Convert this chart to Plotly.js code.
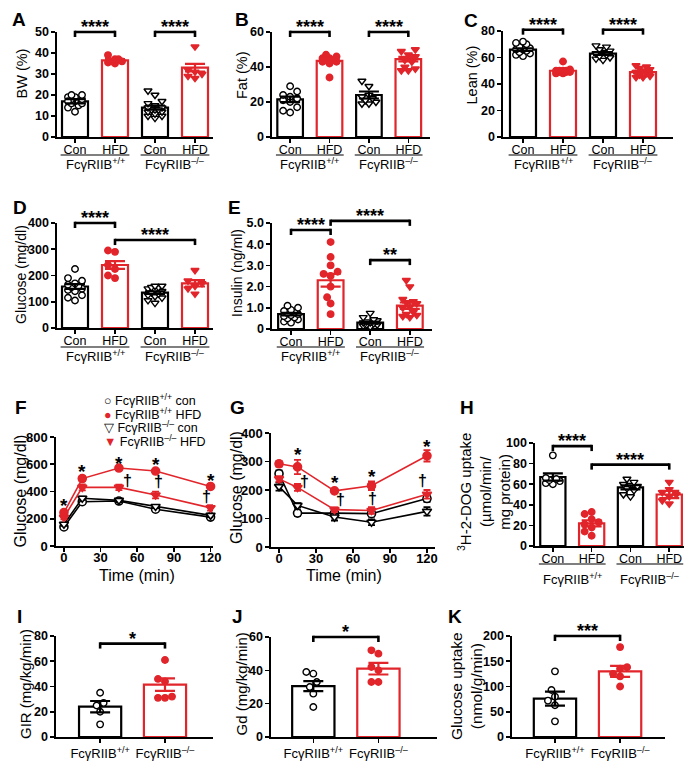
<!DOCTYPE html>
<html><head><meta charset="utf-8">
<script src="https://cdn.plot.ly/plotly-3.0.1.min.js"></script>
<style>body{margin:0;background:#fff}#chart{width:700px;height:770px}</style>
</head><body><div id="chart"></div>
<script>
// ---------------- DATA ----------------
const groups4 = ['Con', 'HFD', 'Con', 'HFD'];
const genotypes = ['FcγRIIB<sup>+/+</sup>', 'FcγRIIB<sup>–/–</sup>'];

// A: BW (%)
const bwMean = [17, 36.5, 14, 33];
const bwSem = [1.0, 0.6, 1.0, 1.8];
const bwWtCon = [12, 14, 15, 16, 16, 17, 18, 18, 19, 19, 20, 20, 17];
const bwWtHfd = [35, 35.5, 36, 36, 37, 37, 39];
const bwKoCon = [9, 10, 10, 11, 12, 12, 13, 13, 14, 14, 15, 16, 17, 20, 22, 13];
const bwKoHfd = [28, 29, 30, 31, 32, 43];
const bwSig = [[0, 1, 50, '****'], [2, 3, 50, '****']];

// B: Fat (%)
const fatMean = [21.5, 43.5, 24, 44.5];
const fatSem = [1.6, 1.0, 2.0, 1.3];
const fatWtCon = [14, 15, 17, 20, 21, 22, 23, 24, 26, 29];
const fatWtHfd = [34, 42, 43, 43, 44, 44, 45, 45, 46, 47];
const fatKoCon = [19, 19, 20, 21, 22, 23, 24, 29, 32];
const fatKoHfd = [38, 38, 39, 40, 43, 44, 46, 47, 49, 50];
const fatSig = [[0, 1, 60, '****'], [2, 3, 60, '****']];

// C: Lean (%)
const leanMean = [66, 50, 63, 49];
const leanSem = [1.0, 0.7, 1.0, 1.0];
const leanWtCon = [61, 62, 63, 64, 65, 66, 66, 67, 68, 70, 71, 72];
const leanWtHfd = [48, 48, 49, 49, 49, 50, 50, 50, 50, 51, 57];
const leanKoCon = [58, 59, 60, 61, 62, 63, 64, 65, 66, 68, 69];
const leanKoHfd = [45, 45, 46, 47, 48, 49, 50, 51, 52, 53, 54];
const leanSig = [[0, 1, 81, '****'], [2, 3, 81, '****']];

// D: Glucose (mg/dl)
const gluMean = [158, 240, 135, 170];
const gluSem = [9, 15, 5, 12];
const gluWtCon = [105, 115, 125, 140, 145, 150, 155, 160, 165, 170, 180, 190, 225];
const gluWtHfd = [190, 200, 225, 240, 290, 295];
const gluKoCon = [95, 105, 115, 120, 125, 130, 135, 140, 145, 150, 155, 155, 160, 160];
const gluKoHfd = [130, 150, 160, 170, 180, 220];
const gluSig = [[0, 1, 400, '****'], [1, 3, 335, '****']];

// E: Insulin (ng/ml)
const insMean = [0.7, 2.3, 0.3, 1.1];
const insSem = [0.06, 0.3, 0.05, 0.15];
const insWtCon = [0.3, 0.35, 0.45, 0.5, 0.55, 0.6, 0.65, 0.7, 0.75, 0.8, 0.85, 0.9, 1.0, 1.1];
const insWtHfd = [0.7, 1.2, 1.5, 2.0, 2.5, 2.6, 2.7, 3.0, 3.4, 4.1];
const insKoCon = [0.1, 0.15, 0.2, 0.2, 0.25, 0.3, 0.3, 0.35, 0.4, 0.45, 0.55, 0.75];
const insKoHfd = [0.55, 0.6, 0.65, 0.7, 0.8, 1.0, 1.05, 1.2, 1.25, 1.3, 1.4, 2.0, 2.3];
const insTickVals = [0, 1, 2, 3, 4, 5];
const insTickText = ['0', '1.0', '2.0', '3.0', '4.0', '5.0'];
const insSig = [[0, 1, 4.67, '****'], [1, 3, 5.1, '****'], [2, 3, 3.25, '**']];

// F: GTT
const gttTime = [0, 15, 45, 75, 120];
const gttWtCon = [140, 325, 330, 270, 212];
const gttWtConSem = [12, 15, 15, 15, 12];
const gttWtHfd = [245, 495, 572, 550, 437];
const gttWtHfdSem = [15, 18, 10, 12, 15];
const gttKoCon = [160, 350, 335, 290, 225];
const gttKoConSem = [12, 12, 12, 12, 12];
const gttKoHfd = [210, 430, 430, 374, 280];
const gttKoHfdSem = [15, 22, 20, 25, 20];
const gttStarT = [0, 15, 45, 75, 120];
const gttStarY = [325, 578, 636, 626, 509];
const gttDagT = [52, 77, 117];
const gttDagY = [484, 472, 362];

// G: ITT
const ittTime = [0, 15, 45, 75, 120];
const ittWtCon = [257, 119, 119, 117, 170];
const ittWtConSem = [12, 10, 10, 10, 12];
const ittWtHfd = [292, 281, 197, 215, 320];
const ittWtHfdSem = [10, 25, 5, 15, 20];
const ittKoCon = [212, 146, 105, 87, 125];
const ittKoConSem = [14, 8, 12, 10, 15];
const ittKoHfd = [239, 209, 131, 128, 185];
const ittKoHfdSem = [10, 12, 8, 12, 15];
const ittStarT = [15, 45, 75, 120];
const ittStarY = [337, 239, 263, 367];
const ittDagT = [21, 50, 76, 116];
const ittDagY = [229, 165, 171, 235];

// H: 3H-2-DOG uptake
const dogMean = [67, 22, 57, 50];
const dogSem = [3.5, 3.0, 2.0, 3.5];
const dogWtCon = [60, 61, 63, 64, 65, 66, 88];
const dogWtHfd = [10, 14, 18, 21, 23, 26, 31, 33];
const dogKoCon = [48, 50, 54, 56, 58, 59, 60, 62, 65];
const dogKoHfd = [41, 44, 48, 50, 52, 55, 62];
const dogSig = [[0, 1, 97, '****'], [1, 3, 79, '****']];

// I: GIR
const girMean = [24, 41.5];
const girSem = [4.5, 5];
const girWt = [10, 20, 25, 27, 35];
const girKo = [31, 31, 32, 44, 46, 61];
const girSig = [[0, 1, 74, '*']];

// J: Gd
const gdMean = [30.5, 41];
const gdSem = [3, 3.5];
const gdWt = [18, 26, 30, 33, 38, 39];
const gdKo = [33, 33, 40, 42, 50, 52];
const gdSig = [[0, 1, 60, '*']];

// K: Glucose uptake
const guMean = [76, 130];
const guSem = [14, 11];
const guWt = [31, 63, 72, 80, 93, 130];
const guKo = [100, 120, 125, 135, 138, 178];
const guSig = [[0, 1, 200, '***']];

// ---------------- LAYOUT / STYLE ----------------
const RED = '#e1252b';
const BLACK = '#000000';
const FONT = '"Liberation Sans", Arial, Helvetica, sans-serif';
const W = 700, H = 770;

const panels = {
  A: {box: [57, 213, 32, 137], yr: [0, 50], dtick: 10, xr: [-0.45, 3.45], bw: 0.65, title: 'BW (%)', tp: [21.5, 74, 14.5]},
  B: {box: [272, 430, 32, 137], yr: [0, 60], dtick: 20, xr: [-0.46, 3.55], bw: 0.65, title: 'Fat (%)', tp: [241.5, 74.5, 14.5]},
  C: {box: [503, 673, 31, 137], yr: [0, 80], dtick: 20, xr: [-0.5, 3.75], bw: 0.65, title: 'Lean (%)', tp: [471.5, 75, 14.5]},
  D: {box: [57, 213, 223, 328], yr: [0, 400], dtick: 100, xr: [-0.45, 3.45], bw: 0.65, title: 'Glucose (mg/dl)', tp: [21, 275, 14]},
  E: {box: [272, 432, 223, 329], yr: [0, 5], dtick: 1, xr: [-0.48, 3.56], bw: 0.65, title: 'Insulin (ng/ml)', tp: [237, 273, 14]},
  F: {box: [56, 213, 437, 546], yr: [0, 800], dtick: 200, xr: [-6.5, 122], title: 'Glucose (mg/dl)', tp: [20, 491.5, 16], xt: [137, 575]},
  G: {box: [271, 435, 433, 547], yr: [0, 400], dtick: 100, xr: [-6.5, 126.5], title: 'Glucose (mg/dl)', tp: [236, 488, 16], xt: [344, 575]},
  H: {box: [535, 684, 443, 546], yr: [0, 100], dtick: 20, xr: [-0.46, 3.38], bw: 0.65, title: '<sup>3</sup>H-2-DOG uptake<br>(µmol/min/<br>mg protein)', tp: [484, 492, 15]},
  I: {box: [56, 213, 636, 737], yr: [0, 80], dtick: 20, xr: [-0.68, 1.74], bw: 0.65, title: 'GIR (mg/kg/min)', tp: [25, 684, 15]},
  J: {box: [271, 437, 637, 737], yr: [0, 60], dtick: 20, xr: [-0.65, 1.9], bw: 0.65, title: 'Gd (mg/kg/min)', tp: [240.5, 684, 15]},
  K: {box: [512, 665, 636, 737], yr: [0, 200], dtick: 50, xr: [-0.66, 1.69], bw: 0.65, title: 'Glucose uptake<br>(nmol/g/min)', tp: [466, 686, 15.5]}
};

const letterPos = {A: [12, 12], B: [235, 12], C: [464, 13], D: [13, 200], E: [228, 200], F: [15, 400],
  G: [230, 400], H: [460, 400], I: [17, 609], J: [232, 609], K: [448, 609]};

const layout = {
  width: W, height: H, margin: {l: 0, r: 0, t: 0, b: 0},
  paper_bgcolor: '#ffffff', plot_bgcolor: 'rgba(0,0,0,0)',
  showlegend: false, barmode: 'overlay', hovermode: false,
  font: {family: FONT, color: BLACK},
  shapes: [], annotations: []
};
const traces = [];

const axBase = {showline: true, linecolor: BLACK, linewidth: 1.6, ticks: 'outside', ticklen: 4,
  tickwidth: 1.6, tickcolor: BLACK, showgrid: false, zeroline: false, fixedrange: true};

const styles4 = [
  {color: BLACK, symbol: 'circle', fill: '#ffffff'},
  {color: RED, symbol: 'circle', fill: RED},
  {color: BLACK, symbol: 'triangle-down', fill: '#ffffff'},
  {color: RED, symbol: 'triangle-down', fill: RED}
];
const styles2 = [styles4[0], styles4[1]];

function ids(n) {
  const s = n === 1 ? '' : String(n);
  return {xa: 'x' + s, ya: 'y' + s, xk: 'xaxis' + s, yk: 'yaxis' + s};
}
function pxDom(b) { return {x: [b[0] / W, b[1] / W], y: [1 - b[3] / H, 1 - b[2] / H]}; }

function setAxes(n, p, xOpts, yOpts) {
  const d = pxDom(p.box), a = ids(n);
  layout[a.xk] = Object.assign({}, axBase, {domain: d.x, anchor: a.ya, range: p.xr,
    tickfont: {family: FONT, size: 12.5, color: BLACK}}, xOpts || {});
  layout[a.yk] = Object.assign({}, axBase, {domain: d.y, anchor: a.xa, range: p.yr, tick0: 0, dtick: p.dtick,
    tickfont: {family: FONT, size: 12.5, color: BLACK, weight: 'bold'}}, yOpts || {});
  // y-axis title as rotated text
  layout.annotations.push({xref: 'paper', yref: 'paper', x: p.tp[0] / W, y: 1 - p.tp[1] / H,
    xanchor: 'center', yanchor: 'middle', textangle: -90, text: p.title, showarrow: false,
    font: {family: FONT, size: p.tp[2], color: BLACK}});
  if (p.xt) {
    layout.annotations.push({xref: 'paper', yref: 'paper', x: p.xt[0] / W, y: 1 - p.xt[1] / H,
      xanchor: 'center', yanchor: 'middle', text: 'Time (min)', showarrow: false,
      font: {family: FONT, size: 16, color: BLACK}});
  }
}

// simple beeswarm offset (layout only)
function swarm(vals, center, p, diam) {
  const ppx = (p.box[1] - p.box[0]) / (p.xr[1] - p.xr[0]);
  const ppy = (p.box[3] - p.box[2]) / (p.yr[1] - p.yr[0]);
  const order = vals.map((v, i) => i).sort((a, b) => vals[a] - vals[b]);
  const placed = [], xs = new Array(vals.length);
  const maxOff = p.bw * ppx / 2 - diam / 2;
  for (const i of order) {
    const yp = vals[i] * ppy;
    let best = null, bestScore = -1, bestOff = 0;
    for (let k = 0; k < 40; k++) {
      const off = (k % 2 === 0 ? 1 : -1) * Math.ceil(k / 2) * diam * 0.5;
      if (Math.abs(off) > maxOff) continue;
      let minD = Infinity;
      placed.forEach(q => { minD = Math.min(minD, Math.hypot(q.x - off, q.y - yp)); });
      if (minD >= diam * 0.98) { best = off; break; }
      if (minD > bestScore) { bestScore = minD; bestOff = off; }
    }
    if (best === null) best = bestOff;
    placed.push({x: best, y: yp});
    xs[i] = center + best / ppx;
  }
  return xs;
}

function addBracket(n, p, x0, x1, yv, label) {
  const a = ids(n);
  const h = p.box[3] - p.box[2];
  const yd = (yv - p.yr[0]) / (p.yr[1] - p.yr[0]);
  const drop = 5 / h;
  const ref = {xref: a.xa, yref: a.ya + ' domain'};
  const ln = {color: BLACK, width: 2.6};
  layout.shapes.push(Object.assign({type: 'line', x0: x0, x1: x1, y0: yd, y1: yd, line: ln}, ref));
  layout.shapes.push(Object.assign({type: 'line', x0: x0, x1: x0, y0: yd - drop, y1: yd + 1.3 / h, line: ln}, ref));
  layout.shapes.push(Object.assign({type: 'line', x0: x1, x1: x1, y0: yd - drop, y1: yd + 1.3 / h, line: ln}, ref));
  layout.annotations.push(Object.assign({x: (x0 + x1) / 2, y: yd, yanchor: 'bottom', yshift: -7, text: label,
    showarrow: false, font: {family: FONT, size: 18, weight: 'bold', color: BLACK}}, ref));
}

function addGenoRow(n, p, underPx, textPx) {
  const a = ids(n);
  const h = p.box[3] - p.box[2];
  const yu = -(underPx - p.box[3]) / h, yt = -(textPx - p.box[3]) / h;
  [[0, 1], [2, 3]].forEach((pr, k) => {
    layout.shapes.push({type: 'line', xref: a.xa, yref: a.ya + ' domain', x0: pr[0] - 0.36, x1: pr[1] + 0.36,
      y0: yu, y1: yu, line: {color: BLACK, width: 1.2}});
    layout.annotations.push({xref: a.xa, yref: a.ya + ' domain', x: (pr[0] + pr[1]) / 2, y: yt, yanchor: 'middle',
      text: genotypes[k], showarrow: false, font: {family: FONT, size: 13, color: BLACK}});
  });
}

function barPanel(n, key, cats, means, sems, groups, styles, sig, yOpts) {
  const p = panels[key], a = ids(n);
  const four = cats.length === 4;
  setAxes(n, p, {tickvals: cats.map((c, i) => i), ticktext: cats, ticklabelstandoff: four ? -4 : 0,
    tickfont: {family: FONT, size: four ? 12.5 : 13, color: BLACK}}, yOpts);
  means.forEach((m, i) => traces.push({type: 'bar', x: [i], y: [m], width: p.bw, xaxis: a.xa, yaxis: a.ya,
    marker: {color: '#ffffff', line: {color: styles[i].color, width: 2.2}}, hoverinfo: 'skip'}));
  groups.forEach((vals, i) => traces.push({type: 'scatter', mode: 'markers', x: swarm(vals, i, p, 7),
    y: vals, xaxis: a.xa, yaxis: a.ya, cliponaxis: false, hoverinfo: 'skip',
    marker: {symbol: styles[i].symbol, size: styles[i].symbol === 'circle' ? 6.5 : 7,
      color: styles[i].fill, line: {color: styles[i].color, width: 1.4}}}));
  means.forEach((m, i) => traces.push({type: 'scatter', mode: 'markers', x: [i], y: [m], xaxis: a.xa, yaxis: a.ya,
    marker: {size: 1, color: 'rgba(0,0,0,0)'}, hoverinfo: 'skip', cliponaxis: false,
    error_y: {type: 'data', array: [sems[i]], color: styles[i].color, thickness: 2.2, width: 10}}));
  sig.forEach(s => addBracket(n, p, s[0], s[1], s[2], s[3]));
}

function linePanel(n, key, t, series, starT, starY, dagT, dagY) {
  const p = panels[key], a = ids(n);
  setAxes(n, p, {tickvals: [0, 30, 60, 90, 120], ticklabelstandoff: -5,
    tickfont: {family: FONT, size: 13, color: BLACK, weight: 'bold'}},
    {tickfont: {family: FONT, size: 13, color: BLACK, weight: 'bold'}});
  series.forEach(s => traces.push({type: 'scatter', mode: 'lines+markers', x: t, y: s.y, xaxis: a.xa, yaxis: a.ya,
    cliponaxis: false, hoverinfo: 'skip', line: {color: s.st.color, width: 1.6},
    marker: {symbol: s.st.symbol, size: 8, color: s.st.fill, line: {color: s.st.color, width: 1.6}},
    error_y: {type: 'data', array: s.sem, color: s.st.color, thickness: 1.8, width: 3.5}}));
  starT.forEach((x, i) => layout.annotations.push({xref: a.xa, yref: a.ya, x: x, y: starY[i], yshift: -4,
    text: '*', showarrow: false, font: {family: FONT, size: 19, weight: 'bold', color: BLACK}}));
  dagT.forEach((x, i) => layout.annotations.push({xref: a.xa, yref: a.ya, x: x, y: dagY[i],
    text: '†', showarrow: false, font: {family: FONT, size: 16, weight: 'bold', color: BLACK}}));
}

// ---------------- BUILD ----------------
barPanel(1, 'A', groups4, bwMean, bwSem, [bwWtCon, bwWtHfd, bwKoCon, bwKoHfd], styles4, bwSig);
addGenoRow(1, panels.A, 155, 164);
barPanel(2, 'B', groups4, fatMean, fatSem, [fatWtCon, fatWtHfd, fatKoCon, fatKoHfd], styles4, fatSig);
addGenoRow(2, panels.B, 155, 164);
barPanel(3, 'C', groups4, leanMean, leanSem, [leanWtCon, leanWtHfd, leanKoCon, leanKoHfd], styles4, leanSig);
addGenoRow(3, panels.C, 155, 164);
barPanel(4, 'D', groups4, gluMean, gluSem, [gluWtCon, gluWtHfd, gluKoCon, gluKoHfd], styles4, gluSig);
addGenoRow(4, panels.D, 347, 356);
barPanel(5, 'E', groups4, insMean, insSem, [insWtCon, insWtHfd, insKoCon, insKoHfd], styles4, insSig,
  {tickvals: insTickVals, ticktext: insTickText});
addGenoRow(5, panels.E, 347, 356);

linePanel(6, 'F', gttTime, [
  {y: gttWtCon, sem: gttWtConSem, st: styles4[0]},
  {y: gttKoCon, sem: gttKoConSem, st: styles4[2]},
  {y: gttKoHfd, sem: gttKoHfdSem, st: styles4[3]},
  {y: gttWtHfd, sem: gttWtHfdSem, st: styles4[1]}
], gttStarT, gttStarY, gttDagT, gttDagY);

linePanel(7, 'G', ittTime, [
  {y: ittWtCon, sem: ittWtConSem, st: styles4[0]},
  {y: ittKoCon, sem: ittKoConSem, st: styles4[2]},
  {y: ittKoHfd, sem: ittKoHfdSem, st: styles4[3]},
  {y: ittWtHfd, sem: ittWtHfdSem, st: styles4[1]}
], ittStarT, ittStarY, ittDagT, ittDagY);

barPanel(8, 'H', groups4, dogMean, dogSem, [dogWtCon, dogWtHfd, dogKoCon, dogKoHfd], styles4, dogSig);
addGenoRow(8, panels.H, 564, 579);

barPanel(9, 'I', genotypes, girMean, girSem, [girWt, girKo], styles2, girSig);
barPanel(10, 'J', genotypes, gdMean, gdSem, [gdWt, gdKo], styles2, gdSig);
barPanel(11, 'K', genotypes, guMean, guSem, [guWt, guKo], styles2, guSig);

// legend for F (text legend)
const legendRows = [
  '○ FcγRIIB<sup>+/+</sup> con',
  '<span style="color:' + RED + '">●</span> FcγRIIB<sup>+/+</sup> HFD',
  '▽ FcγRIIB<sup>–/–</sup> con',
  '<span style="color:' + RED + '">▼</span> FcγRIIB<sup>–/–</sup> HFD'
];
const legendRowPx = [400, 413.5, 427, 441];
legendRows.forEach((t, i) => layout.annotations.push({xref: 'paper', yref: 'paper', x: 102 / W,
  y: 1 - legendRowPx[i] / H, xanchor: 'left', yanchor: 'middle', text: t, showarrow: false,
  font: {family: FONT, size: 12.5, color: BLACK}}));

// panel letters
Object.keys(letterPos).forEach(k => layout.annotations.push({xref: 'paper', yref: 'paper',
  x: (letterPos[k][0] - 2) / W, y: 1 - (letterPos[k][1] - 5) / H, xanchor: 'left', yanchor: 'top',
  text: k, showarrow: false, font: {family: FONT, size: 19, weight: 'bold', color: BLACK}}));

Plotly.newPlot('chart', traces, layout, {staticPlot: true, displayModeBar: false});
</script></body></html>
